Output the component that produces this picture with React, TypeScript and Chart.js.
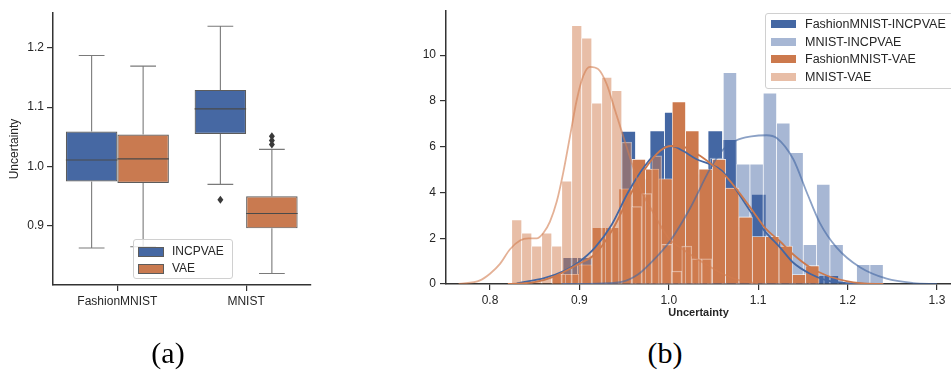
import React, { useEffect, useRef } from 'react';
import { Chart, registerables } from 'chart.js';

Chart.register(...registerables);

const FONT = "'Liberation Sans', Arial, Helvetica, sans-serif";

// ---------------- (a) box plot data ----------------
const BOX_CATEGORIES = ['FashionMNIST', 'MNIST'];
const BOX_SERIES = ['INCPVAE', 'VAE'];
const INCPVAE_WHISKER_LOW = [0.863, 0.970];
const INCPVAE_Q1 = [0.975, 1.055];
const INCPVAE_MEDIAN = [1.011, 1.097];
const INCPVAE_Q3 = [1.059, 1.129];
const INCPVAE_WHISKER_HIGH = [1.187, 1.236];
const INCPVAE_OUTLIERS = [[], [0.944]];
const VAE_WHISKER_LOW = [0.865, 0.820];
const VAE_Q1 = [0.9725, 0.896];
const VAE_MEDIAN = [1.013, 0.921];
const VAE_Q3 = [1.054, 0.950];
const VAE_WHISKER_HIGH = [1.169, 1.029];
const VAE_OUTLIERS = [[], [1.051, 1.044, 1.037]];
const BOX_Y_TICKS = [0.9, 1.0, 1.1, 1.2];
const BOX_Y_MIN = 0.8007;
const BOX_Y_MAX = 1.2584;

// ---------------- (b) histogram data ----------------
const HIST_LABELS = ['FashionMNIST-INCPVAE', 'MNIST-INCPVAE', 'FashionMNIST-VAE', 'MNIST-VAE'];
const HIST_X_TICKS = [0.8, 0.9, 1.0, 1.1, 1.2, 1.3];
const HIST_Y_TICKS = [0, 2, 4, 6, 8, 10];
const HIST_X_MIN = 0.7508;
const HIST_X_MAX = 1.3157;
const HIST_Y_MAX = 11.92;

// FashionMNIST-INCPVAE
const FM_INCPVAE_BIN_START = 0.8817;
const FM_INCPVAE_BIN_WIDTH = 0.01622;
const FM_INCPVAE_DENSITY = [1.16, 1.16, 1.9, 2.3, 6.67, 4.6, 6.69, 7.5, 5.8, 4.8, 6.69, 6.31, 2.5, 3.92, 1.9, 0.37, 0.37, 0.37, 0.37];
const FM_INCPVAE_KDE_X = [0.83, 0.8615, 0.8839, 0.8988, 0.9174, 0.9361, 0.9547, 0.9734, 0.9902, 1.0032, 1.0162, 1.0312, 1.046, 1.0592, 1.0721, 1.0908, 1.1076, 1.1244, 1.139, 1.158, 1.1766, 1.2, 1.23];
const FM_INCPVAE_KDE_Y = [0.03, 0.27, 0.59, 0.94, 1.59, 2.59, 4.02, 5.17, 5.88, 6.03, 5.81, 5.45, 5.24, 4.95, 4.31, 3.2, 2.3, 1.6, 0.94, 0.45, 0.16, 0.04, 0];

// MNIST-INCPVAE
const MN_INCPVAE_BIN_START = 0.9566;
const MN_INCPVAE_BIN_WIDTH = 0.01491;
const MN_INCPVAE_DENSITY = [0.3, 0.6, 1.2, 1.8, 3.0, 4.2, 5.5, 9.24, 5.24, 5.24, 8.34, 7.03, 5.74, 1.73, 4.36, 1.73, 0, 0.85, 0.85];
const MN_INCPVAE_KDE_X = [0.88, 0.92, 0.9473, 0.965, 0.979, 1.0013, 1.0237, 1.046, 1.0592, 1.0752, 1.0925, 1.1095, 1.1207, 1.1393, 1.1542, 1.1691, 1.1878, 1.2139, 1.2437, 1.2735, 1.3];
const MN_INCPVAE_KDE_Y = [0, 0.02, 0.09, 0.4, 0.89, 1.87, 3.3, 5.02, 5.81, 6.27, 6.45, 6.5, 6.38, 5.45, 4.02, 2.66, 1.59, 0.73, 0.23, 0.04, 0];

// FashionMNIST-VAE
const FM_VAE_BIN_START = 0.8695;
const FM_VAE_BIN_WIDTH = 0.01493;
const FM_VAE_DENSITY = [0.42, 0.42, 0.84, 2.47, 2.47, 4.16, 5.45, 5.02, 4.6, 7.96, 6.69, 5.02, 5.45, 4.19, 2.93, 2.07, 2.07, 1.66, 0.41, 0.8];
const FM_VAE_KDE_X = [0.82, 0.85, 0.87, 0.8988, 0.9174, 0.936, 0.9547, 0.9734, 0.99, 1.003, 1.02, 1.035, 1.0497, 1.0647, 1.0796, 1.0945, 1.1076, 1.124, 1.139, 1.158, 1.1766, 1.199, 1.215, 1.24];
const FM_VAE_KDE_Y = [0, 0.08, 0.3, 0.87, 1.3, 2.3, 3.73, 5.02, 5.81, 6.03, 5.95, 5.6, 5.17, 4.67, 3.95, 3.16, 2.45, 1.88, 1.3, 0.73, 0.37, 0.13, 0.04, 0];

// MNIST-VAE
const MN_VAE_BIN_START = 0.8243;
const MN_VAE_BIN_WIDTH = 0.01119;
const MN_VAE_DENSITY = [2.81, 2.23, 1.66, 2.23, 1.66, 4.5, 11.29, 10.75, 7.91, 9.03, 8.45, 6.2, 3.38, 3.95, 5.6, 1.73, 0.56, 1.66, 1.1, 1.1];
const MN_VAE_KDE_X = [0.765, 0.7888, 0.8, 0.8112, 0.8224, 0.8336, 0.8429, 0.8522, 0.8597, 0.8671, 0.8746, 0.882, 0.8895, 0.897, 0.9044, 0.9119, 0.9211, 0.9305, 0.9398, 0.9491, 0.9585, 0.97, 0.98, 0.99, 1.0, 1.02, 1.04, 1.06, 1.08, 1.1];
const MN_VAE_KDE_Y = [0, 0.16, 0.45, 0.88, 1.52, 1.9, 1.99, 1.99, 2.23, 2.73, 3.59, 4.88, 6.45, 8.03, 9.1, 9.49, 9.39, 8.74, 7.6, 6.45, 5.3, 4.0, 3.3, 2.6, 2.0, 1.4, 0.9, 0.45, 0.15, 0.03];

// ---------------- styles ----------------
const AXIS = '#333333';
const TICK = '#262626';
const BOX_FILL = ['rgb(70,104,163)', 'rgb(201,122,80)'];
const BOX_LINE = '#5c5c5c';
const DARK_BLUE = 'rgb(68,103,163)';
const ORANGE = 'rgb(204,121,77)';
const LIGHT_BLUE = 'rgba(68,103,163,0.47)';
const LIGHT_ORANGE = 'rgba(210,125,80,0.5)';

const BOX_STATS = [
  { low: INCPVAE_WHISKER_LOW, q1: INCPVAE_Q1, med: INCPVAE_MEDIAN, q3: INCPVAE_Q3, high: INCPVAE_WHISKER_HIGH, out: INCPVAE_OUTLIERS },
  { low: VAE_WHISKER_LOW, q1: VAE_Q1, med: VAE_MEDIAN, q3: VAE_Q3, high: VAE_WHISKER_HIGH, out: VAE_OUTLIERS },
];

const boxPlugin = {
  id: 'boxWhiskers',
  afterDatasetsDraw(chart: any) {
    const ctx = chart.ctx;
    const ys = chart.scales.y;
    ctx.save();
    BOX_STATS.forEach((s, di) => {
      const meta = chart.getDatasetMeta(di);
      meta.data.forEach((bar: any, i: number) => {
        const { x, width } = bar.getProps(['x', 'width'], true);
        const yLow = ys.getPixelForValue(s.low[i]);
        const yQ1 = ys.getPixelForValue(s.q1[i]);
        const yQ3 = ys.getPixelForValue(s.q3[i]);
        const yHigh = ys.getPixelForValue(s.high[i]);
        const yMed = ys.getPixelForValue(s.med[i]);
        ctx.strokeStyle = '#7a7a7a';
        ctx.lineWidth = 1.1;
        ctx.beginPath();
        ctx.moveTo(x, yQ3); ctx.lineTo(x, yHigh);
        ctx.moveTo(x, yQ1); ctx.lineTo(x, yLow);
        ctx.moveTo(x - width / 4, yHigh); ctx.lineTo(x + width / 4, yHigh);
        ctx.moveTo(x - width / 4, yLow); ctx.lineTo(x + width / 4, yLow);
        ctx.stroke();
        ctx.strokeStyle = '#4a4a4a';
        ctx.lineWidth = 1.2;
        ctx.beginPath();
        ctx.moveTo(x - width / 2, yMed); ctx.lineTo(x + width / 2, yMed);
        ctx.stroke();
        ctx.fillStyle = '#3a3a3a';
        s.out[i].forEach((v: number) => {
          const yo = ys.getPixelForValue(v);
          ctx.beginPath();
          ctx.moveTo(x, yo - 4);
          ctx.lineTo(x + 3, yo);
          ctx.lineTo(x, yo + 4);
          ctx.lineTo(x - 3, yo);
          ctx.closePath();
          ctx.fill();
        });
      });
    });
    ctx.restore();
  },
};

function axisCommon() {
  return {
    grid: { display: true, drawOnChartArea: false, drawTicks: true, tickLength: 6, color: AXIS, lineWidth: 1.2, offset: false },
    border: { display: true, color: AXIS, width: 1.5 },
    ticks: { color: TICK, font: { family: FONT, size: 12 }, padding: 3 },
  };
}

function boxConfig(): any {
  return {
    type: 'bar',
    data: {
      labels: BOX_CATEGORIES,
      datasets: BOX_STATS.map((s, k) => ({
        label: BOX_SERIES[k],
        data: s.q1.map((v, i) => [v, s.q3[i]]),
        backgroundColor: BOX_FILL[k],
        borderColor: BOX_LINE,
        borderWidth: 1.2,
        borderSkipped: false,
        categoryPercentage: 0.8,
        barPercentage: 1,
      })),
    },
    options: {
      responsive: false,
      animation: false,
      devicePixelRatio: 1,
      layout: { padding: { top: 13, right: 9.5, left: 0, bottom: 0 } },
      plugins: { legend: { display: false }, tooltip: { enabled: false } },
      scales: {
        x: {
          type: 'category',
          offset: true,
          ...axisCommon(),
          afterFit: (s: any) => { s.height = 35; },
        },
        y: {
          type: 'linear',
          min: BOX_Y_MIN,
          max: BOX_Y_MAX,
          ...axisCommon(),
          afterBuildTicks: (s: any) => { s.ticks = BOX_Y_TICKS.map((v) => ({ value: v })); },
          ticks: { color: TICK, font: { family: FONT, size: 12 }, padding: 3, callback: (v: any) => Number(v).toFixed(1) },
          title: { display: true, text: 'Uncertainty', color: TICK, font: { family: FONT, size: 12 }, padding: { top: 7, bottom: 0 } },
          afterFit: (s: any) => { s.width = 53; },
        },
      },
    },
    plugins: [boxPlugin],
  };
}

const HIST = [
  { start: FM_INCPVAE_BIN_START, width: FM_INCPVAE_BIN_WIDTH, dens: FM_INCPVAE_DENSITY, kx: FM_INCPVAE_KDE_X, ky: FM_INCPVAE_KDE_Y, fill: DARK_BLUE, edge: 'rgba(255,255,255,0.95)', line: DARK_BLUE, axis: 'x', order: 8, lineOrder: 4 },
  { start: MN_INCPVAE_BIN_START, width: MN_INCPVAE_BIN_WIDTH, dens: MN_INCPVAE_DENSITY, kx: MN_INCPVAE_KDE_X, ky: MN_INCPVAE_KDE_Y, fill: LIGHT_BLUE, edge: 'rgba(255,255,255,0.5)', line: 'rgba(68,103,163,0.62)', axis: 'xb', order: 7, lineOrder: 3 },
  { start: FM_VAE_BIN_START, width: FM_VAE_BIN_WIDTH, dens: FM_VAE_DENSITY, kx: FM_VAE_KDE_X, ky: FM_VAE_KDE_Y, fill: ORANGE, edge: 'rgba(255,255,255,0.95)', line: ORANGE, axis: 'xc', order: 6, lineOrder: 2 },
  { start: MN_VAE_BIN_START, width: MN_VAE_BIN_WIDTH, dens: MN_VAE_DENSITY, kx: MN_VAE_KDE_X, ky: MN_VAE_KDE_Y, fill: LIGHT_ORANGE, edge: 'rgba(255,255,255,0.5)', line: 'rgba(210,125,80,0.6)', axis: 'xd', order: 5, lineOrder: 1 },
];

function histConfig(): any {
  const bars = HIST.map((h, k) => ({
    type: 'bar',
    label: HIST_LABELS[k],
    xAxisID: h.axis,
    yAxisID: 'y',
    data: h.dens.map((d, i) => ({ x: h.start + (i + 0.5) * h.width, y: d })),
    backgroundColor: h.fill,
    borderColor: h.edge,
    borderWidth: { top: 0.8, left: 0.7, right: 0.7, bottom: 0 },
    borderSkipped: false,
    barPercentage: 1,
    categoryPercentage: 1,
    grouped: false,
    order: h.order,
  }));
  const lines = HIST.map((h, k) => ({
    type: 'line',
    label: HIST_LABELS[k] + ' KDE',
    xAxisID: 'x',
    yAxisID: 'y',
    data: h.kx.map((x, i) => ({ x, y: h.ky[i] })),
    borderColor: h.line,
    borderWidth: 1.8,
    pointRadius: 0,
    fill: false,
    cubicInterpolationMode: 'monotone',
    order: h.lineOrder,
  }));
  const hidden = (id: string) => ({ type: 'linear', display: false, min: HIST_X_MIN, max: HIST_X_MAX, offset: false, grid: { offset: false } });
  return {
    type: 'bar',
    data: { datasets: [...bars, ...lines] },
    options: {
      responsive: false,
      animation: false,
      devicePixelRatio: 1,
      layout: { padding: { top: 6, right: 0, left: 0, bottom: 0 } },
      plugins: { legend: { display: false }, tooltip: { enabled: false } },
      scales: {
        x: {
          type: 'linear',
          min: HIST_X_MIN,
          max: HIST_X_MAX,
          offset: false,
          ...axisCommon(),
          afterBuildTicks: (s: any) => { s.ticks = HIST_X_TICKS.map((v) => ({ value: v })); },
          ticks: { color: TICK, font: { family: FONT, size: 12 }, padding: 3, callback: (v: any) => Number(v).toFixed(1) },
          title: { display: true, text: 'Uncertainty', color: TICK, font: { family: FONT, size: 11, weight: 'bold' }, padding: { top: 0, bottom: 5 } },
          afterFit: (s: any) => { s.height = 41; },
        },
        xb: hidden('xb'),
        xc: hidden('xc'),
        xd: hidden('xd'),
        y: {
          type: 'linear',
          min: 0,
          max: HIST_Y_MAX,
          ...axisCommon(),
          afterBuildTicks: (s: any) => { s.ticks = HIST_Y_TICKS.map((v) => ({ value: v })); },
          ticks: { color: TICK, font: { family: FONT, size: 12 }, padding: 4, callback: (v: any) => String(v) },
          afterFit: (s: any) => { s.width = 66; },
        },
      },
    },
  };
}

const legendText: React.CSSProperties = {
  position: 'absolute',
  fontFamily: FONT,
  fontSize: 12.5,
  color: '#262626',
  lineHeight: '14px',
  whiteSpace: 'nowrap',
};

export default function App() {
  const boxRef = useRef<HTMLCanvasElement>(null);
  const histRef = useRef<HTMLCanvasElement>(null);

  useEffect(() => {
    const c1 = new Chart(boxRef.current as HTMLCanvasElement, boxConfig());
    const c2 = new Chart(histRef.current as HTMLCanvasElement, histConfig());
    return () => {
      c1.destroy();
      c2.destroy();
    };
  }, []);

  const histLegendFill = [DARK_BLUE, LIGHT_BLUE, ORANGE, LIGHT_ORANGE];

  return (
    <div style={{ position: 'fixed', left: 0, top: 0, width: 951, height: 372, overflow: 'hidden', background: '#fff' }}>
      <canvas ref={boxRef} width={320} height={320} style={{ position: 'absolute', left: 0, top: 0, width: 320, height: 320 }} />
      <canvas ref={histRef} width={571} height={325} style={{ position: 'absolute', left: 380, top: 0, width: 571, height: 325 }} />

      {/* box plot legend */}
      <div style={{ position: 'absolute', left: 133, top: 239, width: 98, height: 38, border: '1px solid #d0d0d0', borderRadius: 3, background: 'rgba(255,255,255,0.8)' }}>
        {BOX_SERIES.map((name, k) => (
          <React.Fragment key={name}>
            <div style={{ position: 'absolute', left: 4, top: 7 + k * 17, width: 24, height: 8, background: BOX_FILL[k], border: `1px solid ${BOX_LINE}` }} />
            <div style={{ ...legendText, left: 38, top: 4 + k * 17, fontSize: 12 }}>{name}</div>
          </React.Fragment>
        ))}
      </div>

      {/* histogram legend */}
      <div style={{ position: 'absolute', left: 765, top: 13, width: 200, height: 74, border: '1px solid #d0d0d0', borderRadius: 3, background: 'rgba(255,255,255,0.8)' }}>
        {HIST_LABELS.map((name, k) => (
          <React.Fragment key={name}>
            <div style={{ position: 'absolute', left: 5, top: 6 + k * 17.6, width: 25, height: 8, background: histLegendFill[k] }} />
            <div style={{ ...legendText, left: 39, top: 3 + k * 17.6 }}>{name}</div>
          </React.Fragment>
        ))}
      </div>

      {/* captions */}
      <div style={{ position: 'absolute', left: 118, width: 100, top: 336, textAlign: 'center', fontFamily: "'Liberation Serif', 'Times New Roman', serif", fontSize: 30, lineHeight: '34px', color: '#000' }}>(a)</div>
      <div style={{ position: 'absolute', left: 615, width: 100, top: 336, textAlign: 'center', fontFamily: "'Liberation Serif', 'Times New Roman', serif", fontSize: 30, lineHeight: '34px', color: '#000' }}>(b)</div>
    </div>
  );
}
